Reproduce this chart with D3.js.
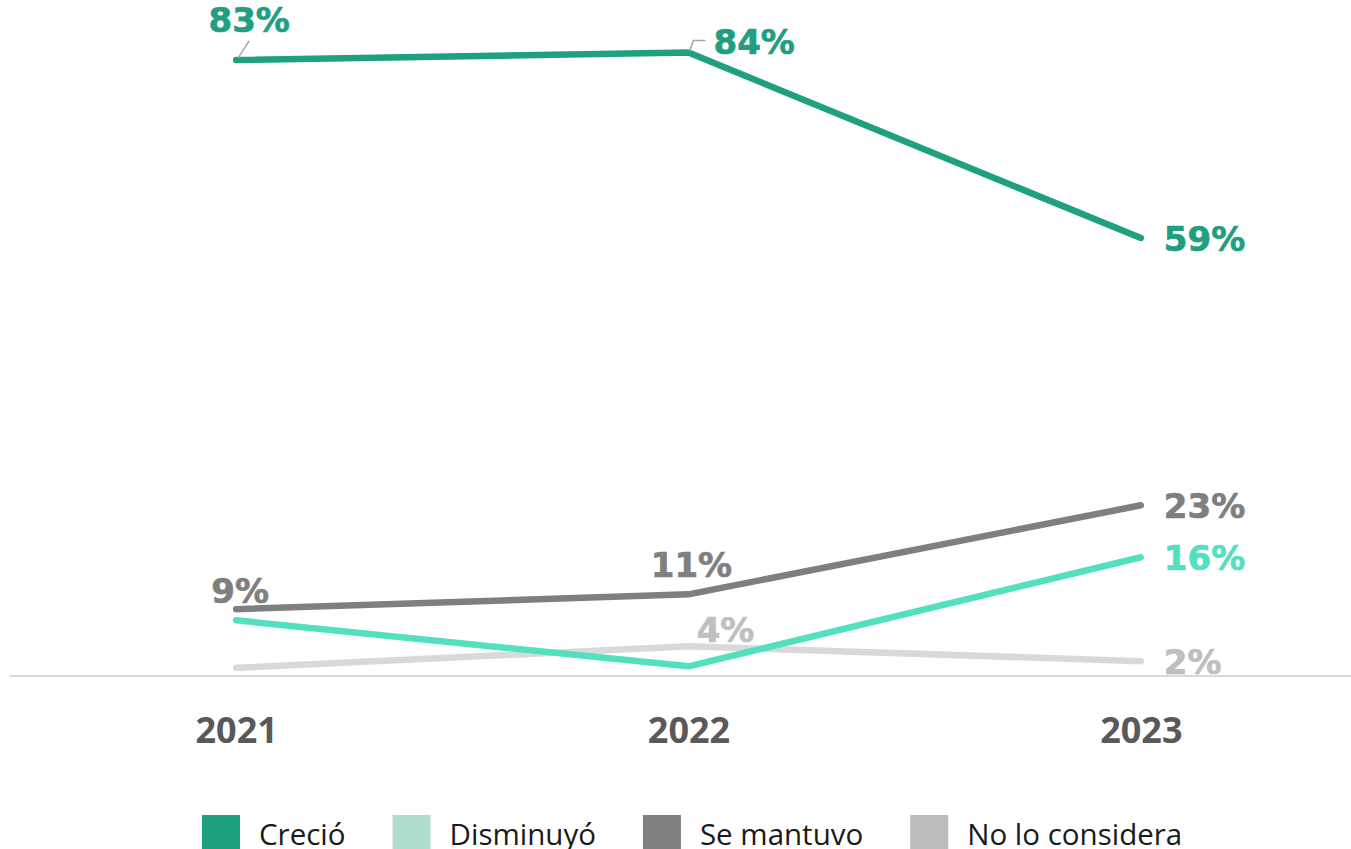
<!DOCTYPE html>
<html>
<head>
<meta charset="utf-8">
<script src="https://cdn.jsdelivr.net/npm/d3@7/dist/d3.min.js"></script>
<style>
  html, body { margin: 0; padding: 0; background: #ffffff; }
  svg { display: block; }
</style>
</head>
<body>
<svg id="chart" width="1351" height="849"></svg>
<script>
// Years on the x axis
const years = ["2021", "2022", "2023"];

// Share of respondents per answer (%)
const crecio = [83, 84, 59];
const disminuyo = [7.5, 1.3, 16];
const seMantuvo = [9, 11, 23];
const noLoConsidera = [1.1, 4, 2];

// Value labels shown next to the points (null = no label)
const crecioLabels = ["83%", "84%", "59%"];
const disminuyoLabels = [null, null, "16%"];
const seMantuvoLabels = ["9%", "11%", "23%"];
const noLoConsideraLabels = [null, "4%", "2%"];

// Legend entries
const legendNames = ["Creció", "Disminuyó", "Se mantuvo", "No lo considera"];

const W = 1351, H = 849;
const svg = d3.select("#chart");

const x = d3.scalePoint().domain(years).range([10, 1367]).padding(0.5);
const y = d3.scaleLinear().domain([0, 90]).range([676, 8]);

const series = [
  { name: legendNames[0], values: crecio, labels: crecioLabels, line: "#1fa07e", text: "#1f9f7f", swatch: "#1fa07e" },
  { name: legendNames[1], values: disminuyo, labels: disminuyoLabels, line: "#52e0c0", text: "#52e0c0", swatch: "#aedccf" },
  { name: legendNames[2], values: seMantuvo, labels: seMantuvoLabels, line: "#7f7f7f", text: "#7f7f7f", swatch: "#7f7f7f" },
  { name: legendNames[3], values: noLoConsidera, labels: noLoConsideraLabels, line: "#d9d9d9", text: "#bfbfbf", swatch: "#bbbbbb" }
];

// Baseline at 0%
svg.append("line")
  .attr("x1", 10).attr("x2", W)
  .attr("y1", y(0)).attr("y2", y(0))
  .attr("stroke", "#d9d9d9").attr("stroke-width", 2);

// Year labels
const xAxis = d3.axisBottom(x).tickSize(0).tickPadding(0);
const axisG = svg.append("g").attr("transform", `translate(0, 743)`).call(xAxis);
axisG.select(".domain").remove();
axisG.selectAll("text")
  .attr("dy", 0).attr("y", 0)
  .attr("font-family", "'Open Sans', sans-serif")
  .attr("font-weight", 700)
  .attr("font-size", 36)
  .attr("fill", "#595959");

// Lines (drawn back to front)
const lineGen = d3.line().x((d, i) => x(years[i])).y(d => y(d));
[3, 1, 2, 0].forEach(k => {
  const s = series[k];
  svg.append("path")
    .datum(s.values)
    .attr("d", lineGen)
    .attr("fill", "none")
    .attr("stroke", s.line)
    .attr("stroke-width", 6.5)
    .attr("stroke-linecap", "round")
    .attr("stroke-linejoin", "round");
});

// Label placement relative to each point: [dx, dy, anchor]
function placement(seriesIndex, i) {
  if (i === 2) return [23, 13, "start"];
  if (seriesIndex === 0 && i === 0) return [13, -28, "middle"];
  if (seriesIndex === 0 && i === 1) return [25, 1, "start"];
  if (seriesIndex === 2 && i === 0) return [4, -6, "middle"];
  if (seriesIndex === 2 && i === 1) return [3, -17, "middle"];
  if (seriesIndex === 3 && i === 1) return [37, -4, "middle"];
  return [0, -10, "middle"];
}

// Leader lines for the two top labels
const lead = svg.append("g").attr("fill", "none").attr("stroke", "#a6a6a6").attr("stroke-width", 1.5);
{
  const px = x(years[0]), py = y(crecio[0]);
  lead.append("path").attr("d", d3.line()([[px + 2, py - 2], [px + 13, py - 19]]));
  const qx = x(years[1]), qy = y(crecio[1]);
  lead.append("path").attr("d", d3.line()([[qx + 1, qy - 1], [qx + 5, qy - 12], [qx + 17, qy - 12]]));
}

// Value labels
series.forEach((s, k) => {
  s.labels.forEach((lab, i) => {
    if (!lab) return;
    const [dx, dy, anchor] = placement(k, i);
    svg.append("text")
      .attr("x", x(years[i]) + dx)
      .attr("y", y(s.values[i]) + dy)
      .attr("text-anchor", anchor)
      .attr("font-family", "'DejaVu Sans', sans-serif")
      .attr("font-weight", 700)
      .attr("font-size", 34)
      .attr("fill", s.text)
      .attr("stroke", s.text)
      .attr("stroke-width", 0.7)
      .text(lab);
  });
});

// Legend
const legend = svg.append("g").attr("transform", "translate(202, 815)");
let cx = 0;
series.forEach(s => {
  const g = legend.append("g").attr("transform", `translate(${cx}, 0)`);
  g.append("rect").attr("width", 38).attr("height", 38).attr("fill", s.swatch);
  const t = g.append("text")
    .attr("x", 57).attr("y", 30)
    .attr("font-family", "'Open Sans', sans-serif")
    .attr("font-size", 29.5)
    .attr("fill", "#1a1a1a")
    .text(s.name);
  cx += 57 + t.node().getComputedTextLength() + 47;
});
</script>
</body>
</html>
